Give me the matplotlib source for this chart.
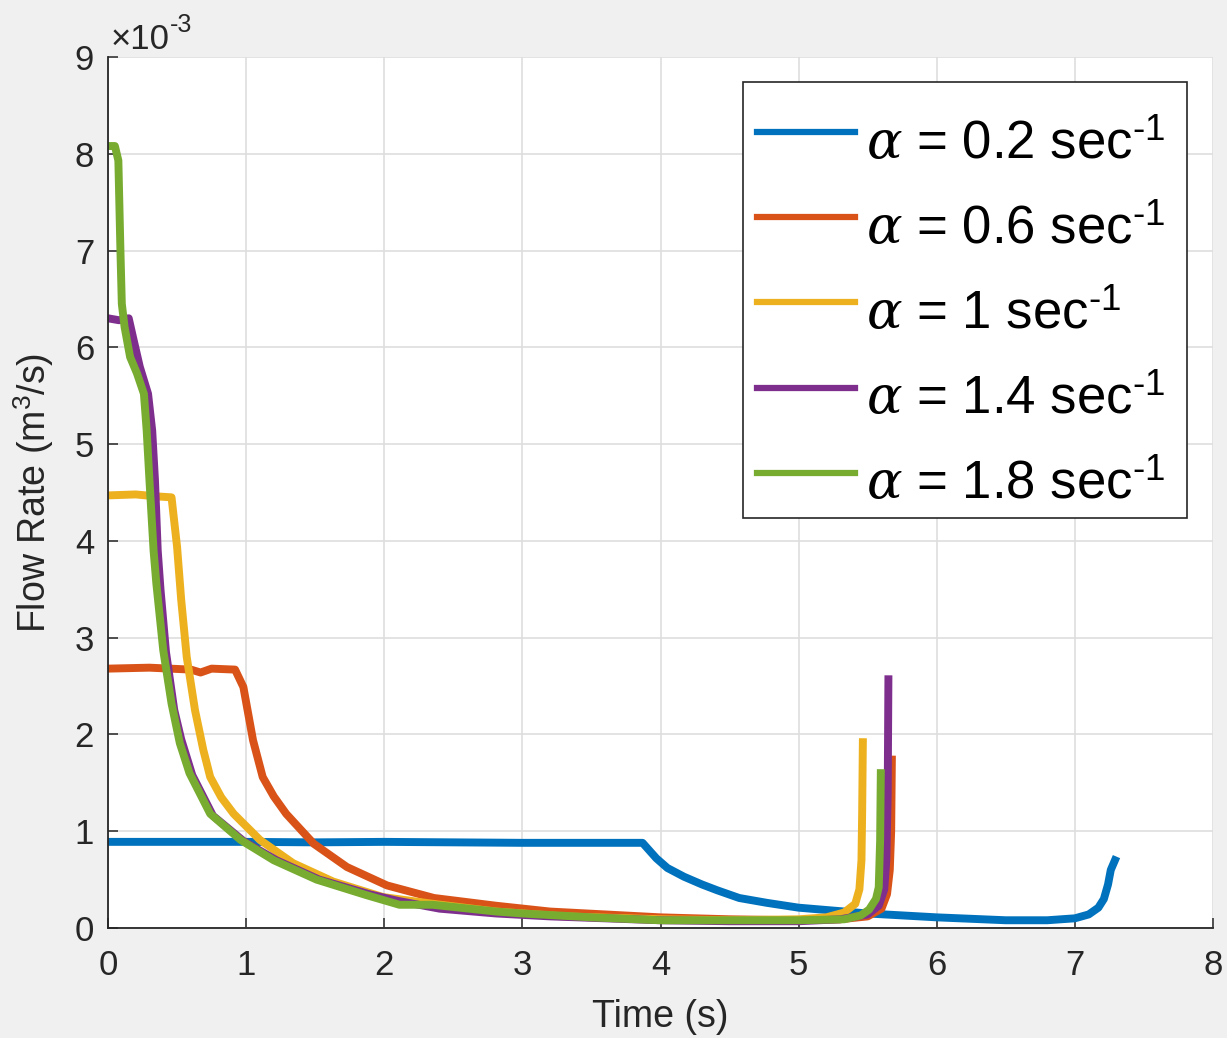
import matplotlib
matplotlib.use("Agg")
import matplotlib.pyplot as plt
from matplotlib.legend_handler import HandlerLine2D
from matplotlib.patches import Rectangle

plt.rcParams['font.family'] = ['Liberation Sans', 'DejaVu Sans']
plt.rcParams['mathtext.fontset'] = 'custom'
plt.rcParams['mathtext.rm'] = 'Liberation Sans'
plt.rcParams['mathtext.sf'] = 'Liberation Sans'
plt.rcParams['mathtext.it'] = 'DejaVu Serif:italic'
plt.rcParams['mathtext.bf'] = 'Liberation Sans:bold'

# flow rate values are in units of 1e-3 m^3/s
t_02 = [0, 0.5, 1.0, 1.5, 2.0, 2.5, 3.0, 3.5, 3.87, 3.97, 4.05, 4.17, 4.3, 4.41, 4.57, 4.77,
        5.0, 5.25, 5.5, 6.0, 6.5, 6.8, 7.0, 7.1, 7.17, 7.21, 7.24, 7.26, 7.29]
q_02 = [0.89, 0.89, 0.89, 0.885, 0.89, 0.885, 0.88, 0.88, 0.88, 0.72, 0.62, 0.53, 0.45, 0.39, 0.31, 0.26,
        0.21, 0.18, 0.15, 0.11, 0.08, 0.08, 0.10, 0.14, 0.21, 0.30, 0.45, 0.60, 0.70]

t_06 = [0, 0.3, 0.6, 0.67, 0.75, 0.92, 0.98, 1.05, 1.12, 1.2, 1.29, 1.49, 1.73, 2.02, 2.36, 2.81,
        3.2, 3.6, 4.0, 4.5, 5.0, 5.3, 5.5, 5.6, 5.64, 5.66, 5.67, 5.675]
q_06 = [2.68, 2.69, 2.67, 2.64, 2.68, 2.67, 2.49, 1.94, 1.56, 1.36, 1.18, 0.87, 0.63, 0.44, 0.31, 0.23,
        0.17, 0.14, 0.11, 0.09, 0.08, 0.09, 0.12, 0.2, 0.35, 0.6, 1.0, 1.74]

t_10 = [0, 0.2, 0.35, 0.46, 0.50, 0.53, 0.57, 0.63, 0.69, 0.74, 0.82, 0.91, 1.10, 1.34, 1.63, 1.99,
        2.35, 2.81, 3.3, 4.0, 4.5, 5.0, 5.2, 5.33, 5.41, 5.44, 5.455, 5.46, 5.465]
q_10 = [4.47, 4.48, 4.46, 4.45, 3.94, 3.39, 2.80, 2.25, 1.84, 1.56, 1.35, 1.18, 0.91, 0.67, 0.48, 0.32,
        0.25, 0.17, 0.12, 0.09, 0.08, 0.09, 0.11, 0.16, 0.25, 0.40, 0.7, 1.2, 1.92]

t_14 = [0, 0.08, 0.15, 0.18, 0.23, 0.29, 0.32, 0.34, 0.36, 0.38, 0.42, 0.48, 0.53, 0.61, 0.76, 0.98,
        1.22, 1.53, 1.89, 2.1, 2.4, 2.81, 3.2, 4.0, 4.5, 5.0, 5.3, 5.5, 5.58, 5.62, 5.635, 5.645, 5.65]
q_14 = [6.30, 6.28, 6.30, 6.11, 5.80, 5.52, 5.14, 4.63, 3.90, 3.50, 2.85, 2.25, 1.95, 1.58, 1.16, 0.90,
        0.70, 0.50, 0.35, 0.28, 0.20, 0.15, 0.12, 0.08, 0.07, 0.07, 0.09, 0.14, 0.23, 0.40, 0.7, 1.4, 2.57]

t_18 = [0, 0.05, 0.075, 0.09, 0.10, 0.12, 0.16, 0.21, 0.26, 0.28, 0.30, 0.33, 0.35, 0.40, 0.46, 0.52,
        0.59, 0.74, 0.96, 1.20, 1.51, 1.87, 2.11, 2.35, 2.81, 3.0, 3.5, 4.0, 4.5, 5.0, 5.33, 5.45,
        5.51, 5.56, 5.58, 5.59, 5.595]
q_18 = [8.08, 8.08, 7.93, 7.0, 6.45, 6.21, 5.90, 5.73, 5.52, 5.14, 4.63, 3.90, 3.56, 2.87, 2.32, 1.91,
        1.60, 1.18, 0.91, 0.70, 0.50, 0.34, 0.24, 0.24, 0.17, 0.15, 0.11, 0.08, 0.08, 0.08, 0.09, 0.13,
        0.19, 0.30, 0.42, 0.9, 1.60]

labels = [r'$\alpha$ = 0.2 sec$^{\text{-1}}$',
          r'$\alpha$ = 0.6 sec$^{\text{-1}}$',
          r'$\alpha$ = 1 sec$^{\text{-1}}$',
          r'$\alpha$ = 1.4 sec$^{\text{-1}}$',
          r'$\alpha$ = 1.8 sec$^{\text{-1}}$']
colors = ['#0072BD', '#D95319', '#EDB120', '#7E2F8E', '#77AC30']


class RaisedLine(HandlerLine2D):
    # move legend line relative to text, like matlab
    def create_artists(self, legend, orig_handle, xdescent, ydescent, width, height, fontsize, trans):
        arts = super().create_artists(legend, orig_handle, xdescent, ydescent, width, height, fontsize, trans)
        for a in arts:
            a.set_ydata([y + 0.02 * fontsize for y in a.get_ydata()])
        return arts


fig = plt.figure(figsize=(12.27, 10.38), dpi=100, facecolor='#f0f0f0')
ax = fig.add_axes([108/1227, 1 - 928/1038, 1105/1227, 871/1038])
ax.set_facecolor('white')

series = [(t_02, q_02), (t_06, q_06), (t_10, q_10), (t_14, q_14), (t_18, q_18)]
for (tt, qq), c, lab in zip(series, colors, labels):
    ax.plot(tt, qq, color=c, lw=5.7, label=lab, solid_joinstyle='round')

ax.set_xlim(0, 8)
ax.set_ylim(0, 9)
ax.set_xticks(range(0, 9))
ax.set_yticks(range(0, 10))
ax.grid(True, color='#dedede', lw=1.2)
ax.set_axisbelow(True)
for s in ['top', 'right']:
    ax.spines[s].set_visible(False)
for s in ['left', 'bottom']:
    ax.spines[s].set_color('#262626')
    ax.spines[s].set_linewidth(1.3)
ax.tick_params(direction='in', length=7, width=1.1, colors='#262626', labelsize=25)
ax.tick_params(axis='y', pad=10)
ax.tick_params(axis='x', pad=15)

ax.set_xlabel('Time (s)', fontsize=27, color='#262626')
ax.set_ylabel('Flow Rate (m$^{\\mathregular{3}}$/s)', fontsize=27, color='#262626')
ax.xaxis.set_label_coords(0.5, -0.081)
ax.yaxis.set_label_coords(-0.047, 0.5)

# exponent label like MATLAB
fig.text(111/1227, 1 - 49/1038, '\u00d710', fontsize=25, color='#262626', ha='left', va='baseline')
fig.text(170/1227, 1 - 32/1038, '-3', fontsize=18, color='#262626', ha='left', va='baseline')

# legend box drawn separately so the padding can differ from the text spacing
ax.add_patch(Rectangle((0.5747, 0.4707), 0.4018, 0.5006, transform=ax.transAxes,
                       facecolor='white', edgecolor='#262626', lw=1.2, zorder=4.5))
leg = ax.legend(loc='upper right', bbox_to_anchor=(0.9665, 0.949), borderaxespad=0,
                fontsize=38, handlelength=1.86, handletextpad=0.2, borderpad=0.21,
                labelspacing=0.667, frameon=False,
                handler_map={matplotlib.lines.Line2D: RaisedLine()})
for h in leg.legend_handles:
    h.set_linewidth(4.5)
for txt in leg.get_texts():
    txt.set_y(-7)

fig.savefig('out.png', dpi=100, facecolor=fig.get_facecolor())
